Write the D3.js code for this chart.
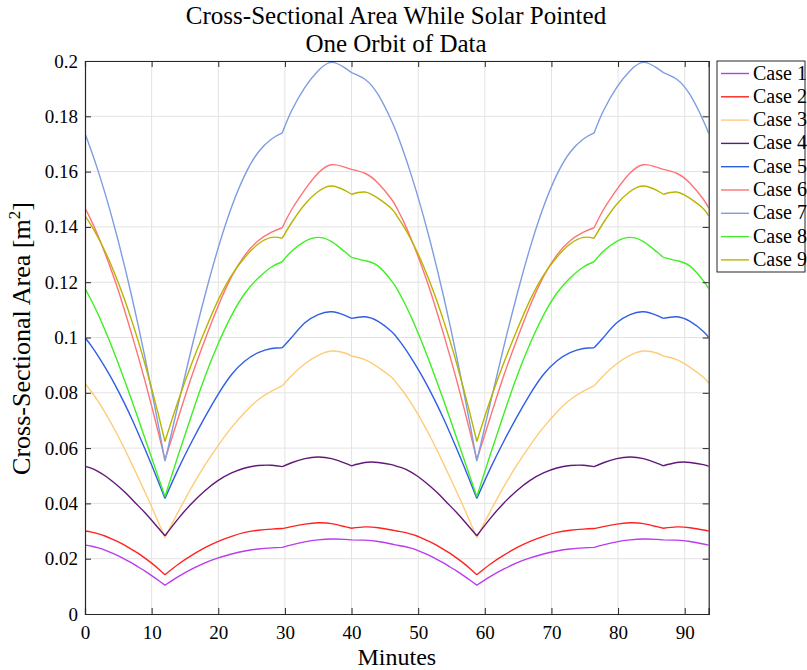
<!DOCTYPE html>
<html>
<head>
<meta charset="utf-8">
<script src="https://cdn.jsdelivr.net/npm/d3@7"></script>
<style>
  html, body { margin: 0; padding: 0; background: #ffffff; }
  svg { display: block; }
  text { font-family: "Liberation Serif", "Times New Roman", serif; fill: #000; }
</style>
</head>
<body>
<svg id="chart" width="807" height="670"></svg>
<script>
// ---------------- DATA ----------------
const titleLines = ["Cross-Sectional Area While Solar Pointed", "One Orbit of Data"];
const xLabel = "Minutes";
const yLabelMain = "Cross-Sectional Area [m";
const yLabelSup = "2";
const yLabelEnd = "]";

const xTicks = [0, 10, 20, 30, 40, 50, 60, 70, 80, 90];
const yTicks = [0, 0.02, 0.04, 0.06, 0.08, 0.1, 0.12, 0.14, 0.16, 0.18, 0.2];
const yTickLabels = ["0", "0.02", "0.04", "0.06", "0.08", "0.1", "0.12", "0.14", "0.16", "0.18", "0.2"];

const seriesNames = ["Case 1", "Case 2", "Case 3", "Case 4", "Case 5", "Case 6", "Case 7", "Case 8", "Case 9"];
const seriesColors = ["#bb3bee", "#ff2222", "#ffcc77", "#621878", "#2f5ee6", "#ff7276", "#7f9de0", "#3ef022", "#b9b400"];

// minutes where the curves have a kink (attitude switch)
const kinkMinutes = [12, 29.6, 40, 58.8, 76.4, 86.8];

const minutes = [0,1,2,3,4,5,6,7,8,9,10,11,12,14,16,18,20,22,24,26,28,29.6,31,33,35,37,39,40,42,44,46,
  46.8,47.8,48.8,49.8,50.8,51.8,52.8,53.8,54.8,55.8,56.8,57.8,58.8,60.8,62.8,64.8,66.8,68.8,70.8,72.8,74.8,76.4,77.8,79.8,81.8,83.8,85.8,86.8,88.8,90.8,92.8,
  93.6];

const case1 = [0.0249,0.0245,0.0239,0.0231,0.0221,0.0210,0.0198,0.0185,0.0170,0.0155,0.0139,0.0122,0.0104,0.0135,0.0162,0.0185,0.0203,0.0217,0.0228,0.0235,0.0239,0.0241,0.0250,0.0261,0.0268,0.0271,0.0270,0.0268,0.0267,0.0262,0.0253,
  0.0249,0.0245,0.0239,0.0231,0.0221,0.0210,0.0198,0.0185,0.0170,0.0155,0.0139,0.0122,0.0104,0.0135,0.0162,0.0185,0.0203,0.0217,0.0228,0.0235,0.0239,0.0241,0.0250,0.0261,0.0268,0.0271,0.0270,0.0268,0.0267,0.0262,0.0253,
  0.0249];
const case2 = [0.0300,0.0296,0.0290,0.0282,0.0272,0.0261,0.0248,0.0234,0.0219,0.0202,0.0184,0.0164,0.0142,0.0180,0.0212,0.0240,0.0263,0.0281,0.0295,0.0303,0.0307,0.0309,0.0316,0.0325,0.0330,0.0327,0.0316,0.0310,0.0315,0.0312,0.0304,
  0.0300,0.0296,0.0290,0.0282,0.0272,0.0261,0.0248,0.0234,0.0219,0.0202,0.0184,0.0164,0.0142,0.0180,0.0212,0.0240,0.0263,0.0281,0.0295,0.0303,0.0307,0.0309,0.0316,0.0325,0.0330,0.0327,0.0316,0.0310,0.0315,0.0312,0.0304,
  0.0300];
const case3 = [0.0834,0.0803,0.0768,0.0729,0.0687,0.0642,0.0594,0.0544,0.0493,0.0441,0.0388,0.0332,0.0276,0.0370,0.0458,0.0538,0.0610,0.0675,0.0730,0.0775,0.0806,0.0825,0.0862,0.0905,0.0935,0.0951,0.0944,0.0933,0.0920,0.0892,0.0856,
  0.0834,0.0803,0.0768,0.0729,0.0687,0.0642,0.0594,0.0544,0.0493,0.0441,0.0388,0.0332,0.0276,0.0370,0.0458,0.0538,0.0610,0.0675,0.0730,0.0775,0.0806,0.0825,0.0862,0.0905,0.0935,0.0951,0.0944,0.0933,0.0920,0.0892,0.0856,
  0.0834];
const case4 = [0.0534,0.0527,0.0515,0.0500,0.0482,0.0462,0.0440,0.0416,0.0391,0.0366,0.0339,0.0311,0.0283,0.0345,0.0400,0.0446,0.0483,0.0510,0.0528,0.0537,0.0538,0.0533,0.0547,0.0562,0.0568,0.0562,0.0546,0.0536,0.0548,0.0548,0.0540,
  0.0534,0.0527,0.0515,0.0500,0.0482,0.0462,0.0440,0.0416,0.0391,0.0366,0.0339,0.0311,0.0283,0.0345,0.0400,0.0446,0.0483,0.0510,0.0528,0.0537,0.0538,0.0533,0.0547,0.0562,0.0568,0.0562,0.0546,0.0536,0.0548,0.0548,0.0540,
  0.0534];
const case5 = [0.1000,0.0968,0.0932,0.0893,0.0851,0.0806,0.0758,0.0707,0.0653,0.0597,0.0539,0.0479,0.0418,0.0525,0.0622,0.0712,0.0795,0.0866,0.0915,0.0945,0.0960,0.0963,0.1000,0.1053,0.1083,0.1093,0.1080,0.1069,0.1075,0.1058,0.1022,
  0.1000,0.0968,0.0932,0.0893,0.0851,0.0806,0.0758,0.0707,0.0653,0.0597,0.0539,0.0479,0.0418,0.0525,0.0622,0.0712,0.0795,0.0866,0.0915,0.0945,0.0960,0.0963,0.1000,0.1053,0.1083,0.1093,0.1080,0.1069,0.1075,0.1058,0.1022,
  0.1000];
const case6 = [0.1468,0.1420,0.1365,0.1305,0.1240,0.1170,0.1093,0.1013,0.0930,0.0843,0.0752,0.0657,0.0558,0.0710,0.0859,0.0992,0.1115,0.1220,0.1298,0.1350,0.1381,0.1397,0.1462,0.1535,0.1595,0.1625,0.1616,0.1608,0.1594,0.1558,0.1500,
  0.1468,0.1420,0.1365,0.1305,0.1240,0.1170,0.1093,0.1013,0.0930,0.0843,0.0752,0.0657,0.0558,0.0710,0.0859,0.0992,0.1115,0.1220,0.1298,0.1350,0.1381,0.1397,0.1462,0.1535,0.1595,0.1625,0.1616,0.1608,0.1594,0.1558,0.1500,
  0.1468];
const case7 = [0.1738,0.1672,0.1600,0.1522,0.1438,0.1348,0.1252,0.1150,0.1042,0.0928,0.0808,0.0684,0.0553,0.0760,0.0962,0.1152,0.1325,0.1472,0.1588,0.1670,0.1718,0.1740,0.1820,0.1905,0.1965,0.1995,0.1975,0.1958,0.1934,0.1878,0.1784,
  0.1738,0.1672,0.1600,0.1522,0.1438,0.1348,0.1252,0.1150,0.1042,0.0928,0.0808,0.0684,0.0553,0.0760,0.0962,0.1152,0.1325,0.1472,0.1588,0.1670,0.1718,0.1740,0.1820,0.1905,0.1965,0.1995,0.1975,0.1958,0.1934,0.1878,0.1784,
  0.1738];
const case8 = [0.1177,0.1132,0.1082,0.1027,0.0968,0.0906,0.0841,0.0774,0.0705,0.0635,0.0565,0.0495,0.0425,0.0575,0.0720,0.0858,0.0978,0.1080,0.1160,0.1215,0.1255,0.1274,0.1312,0.1348,0.1362,0.1347,0.1310,0.1290,0.1278,0.1258,0.1205,
  0.1177,0.1132,0.1082,0.1027,0.0968,0.0906,0.0841,0.0774,0.0705,0.0635,0.0565,0.0495,0.0425,0.0575,0.0720,0.0858,0.0978,0.1080,0.1160,0.1215,0.1255,0.1274,0.1312,0.1348,0.1362,0.1347,0.1310,0.1290,0.1278,0.1258,0.1205,
  0.1177];
const case9 = [0.1440,0.1403,0.1360,0.1312,0.1258,0.1198,0.1133,0.1062,0.0986,0.0904,0.0816,0.0723,0.0624,0.0772,0.0905,0.1025,0.1136,0.1225,0.1290,0.1338,0.1362,0.1359,0.1415,0.1482,0.1528,0.1548,0.1532,0.1518,0.1526,0.1503,0.1466,
  0.1440,0.1403,0.1360,0.1312,0.1258,0.1198,0.1133,0.1062,0.0986,0.0904,0.0816,0.0723,0.0624,0.0772,0.0905,0.1025,0.1136,0.1225,0.1290,0.1338,0.1362,0.1359,0.1415,0.1482,0.1528,0.1548,0.1532,0.1518,0.1526,0.1503,0.1466,
  0.1440];

const seriesValues = [case1, case2, case3, case4, case5, case6, case7, case8, case9];

// ---------------- LAYOUT ----------------
const svg = d3.select("#chart");
const plot = { left: 85, right: 708.7, top: 61, bottom: 614 };
const axisColor = "#262626";
const gridColor = "#e3e3e3";
const tickFont = 19;
const labelFont = 25;

const x = d3.scaleLinear().domain([0, 93.6]).range([plot.left, plot.right]);
const y = d3.scaleLinear().domain([0, 0.2]).range([plot.bottom, plot.top]);

svg.append("rect").attr("x", 0).attr("y", 0).attr("width", 807).attr("height", 670).attr("fill", "#fff");

// grid
const grid = svg.append("g");
grid.selectAll("line.gx").data(xTicks.filter(d => d > 0)).join("line")
  .attr("x1", d => x(d)).attr("x2", d => x(d))
  .attr("y1", plot.top).attr("y2", plot.bottom)
  .attr("stroke", gridColor).attr("stroke-width", 1);
grid.selectAll("line.gy").data(yTicks.filter(d => d > 0)).join("line")
  .attr("y1", d => y(d)).attr("y2", d => y(d))
  .attr("x1", plot.left).attr("x2", plot.right)
  .attr("stroke", gridColor).attr("stroke-width", 1);

// series
svg.append("clipPath").attr("id", "clip").append("rect")
  .attr("x", plot.left).attr("y", plot.top - 2)
  .attr("width", plot.right - plot.left).attr("height", plot.bottom - plot.top + 2);

const line = d3.line().x(d => x(d[0])).y(d => y(d[1])).curve(d3.curveNatural);
const bounds = [0, ...kinkMinutes, 93.6];

const lines = svg.append("g").attr("clip-path", "url(#clip)");
seriesValues.forEach((vals, si) => {
  const pts = minutes.map((m, i) => [m, vals[i]]);
  let d = "";
  for (let b = 0; b < bounds.length - 1; b++) {
    const seg = pts.filter(p => p[0] >= bounds[b] - 1e-9 && p[0] <= bounds[b + 1] + 1e-9);
    d += line(seg);
  }
  lines.append("path").attr("d", d)
    .attr("fill", "none").attr("stroke", seriesColors[si])
    .attr("stroke-width", 1.4).attr("stroke-linejoin", "round");
});

// axes (box with inward ticks on all sides)
const axB = d3.axisBottom(x).tickValues(xTicks).tickSize(-6).tickPadding(12).tickFormat(d3.format("d"));
const axT = d3.axisTop(x).tickValues(xTicks).tickSize(-6).tickFormat("");
const axL = d3.axisLeft(y).tickValues(yTicks).tickSize(-6).tickPadding(7).tickFormat((d, i) => yTickLabels[i]);
const axR = d3.axisRight(y).tickValues(yTicks).tickSize(-6).tickFormat("");

function styleAxis(g) {
  g.select(".domain").attr("stroke", axisColor).attr("stroke-width", 1.2);
  g.selectAll(".tick line").attr("stroke", axisColor).attr("stroke-width", 1);
  g.selectAll(".tick text").attr("font-family", "Liberation Serif, serif").attr("font-size", tickFont).attr("fill", "#111");
}
svg.append("g").attr("transform", `translate(0,${plot.bottom})`).call(axB).call(styleAxis);
svg.append("g").attr("transform", `translate(0,${plot.top})`).call(axT).call(styleAxis);
svg.append("g").attr("transform", `translate(${plot.left},0)`).call(axL).call(styleAxis);
svg.append("g").attr("transform", `translate(${plot.right},0)`).call(axR).call(styleAxis);

// titles
svg.append("text").attr("x", 396).attr("y", 24).attr("text-anchor", "middle")
  .attr("font-size", labelFont).text(titleLines[0]);
svg.append("text").attr("x", 396).attr("y", 52).attr("text-anchor", "middle")
  .attr("font-size", labelFont).text(titleLines[1]);

// x label
svg.append("text").attr("x", (plot.left + plot.right) / 2).attr("y", 665).attr("text-anchor", "middle")
  .attr("font-size", 24).text(xLabel);

// y label
const yl = svg.append("text").attr("transform", `translate(30,${(plot.top + plot.bottom) / 2 + 1}) rotate(-90)`)
  .attr("text-anchor", "middle").attr("font-size", 26);
yl.append("tspan").text(yLabelMain);
yl.append("tspan").attr("font-size", 17).attr("dy", -10).text(yLabelSup);
yl.append("tspan").attr("dy", 10).text(yLabelEnd);

// legend
const lg = svg.append("g");
const lgX = 717, lgY = 61, rowH = 23.3;
lg.append("rect").attr("x", lgX).attr("y", lgY).attr("width", 88).attr("height", 211)
  .attr("fill", "#fff").attr("stroke", axisColor).attr("stroke-width", 1);
seriesNames.forEach((name, i) => {
  const cy = lgY + 12.5 + i * rowH;
  lg.append("line").attr("x1", lgX + 4).attr("x2", lgX + 32).attr("y1", cy).attr("y2", cy)
    .attr("stroke", seriesColors[i]).attr("stroke-width", 1.4);
  lg.append("text").attr("x", lgX + 36).attr("y", cy + 6).attr("font-size", 20).text(name);
});
</script>
</body>
</html>
